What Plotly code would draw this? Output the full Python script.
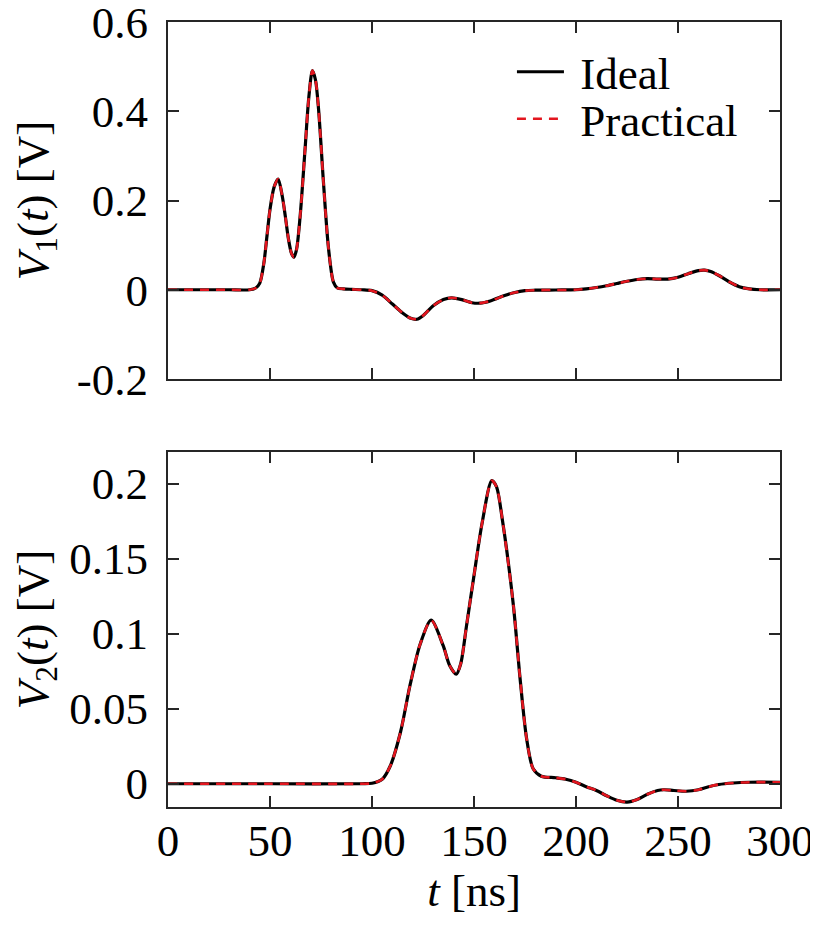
import plotly.graph_objects as go

# ---- data ----
t1 = [0, 10, 20, 30, 40, 43, 45, 47, 48.5, 50, 52, 54, 56, 57.5, 59, 60.5, 61.7, 63, 64.8, 67.2, 69,
      70.8, 72.3, 73.8, 76.2, 78.7, 81.1, 83, 86, 90, 95, 100, 105, 110, 115, 119, 122, 125, 130, 135,
      139, 144, 149, 153, 158, 165, 170, 175, 180, 190, 200, 205, 210, 215, 220, 225, 230, 235, 240,
      245, 250, 255, 260, 263, 266, 270, 275, 280, 285, 290, 300]
v1_ideal = [0, 0, 0, 0, 0, 0.004, 0.015, 0.06, 0.12, 0.18, 0.23, 0.248, 0.21, 0.165, 0.115, 0.082, 0.073,
            0.09, 0.166, 0.316, 0.43, 0.491, 0.47, 0.405, 0.241, 0.092, 0.017, 0.004, 0.002, 0.001, 0.0,
            -0.002, -0.012, -0.032, -0.052, -0.064, -0.066, -0.058, -0.036, -0.022, -0.018, -0.022,
            -0.029, -0.030, -0.025, -0.013, -0.006, -0.002, -0.001, -0.0005, 0, 0.002, 0.005, 0.009,
            0.014, 0.019, 0.023, 0.025, 0.024, 0.024, 0.028, 0.036, 0.043, 0.044, 0.041, 0.032, 0.018,
            0.007, 0.002, 0, 0]
v1_practical = [0, 0, 0, 0, 0, 0.004, 0.015, 0.06, 0.12, 0.18, 0.23, 0.248, 0.21, 0.165, 0.115, 0.082, 0.073,
                0.09, 0.166, 0.316, 0.43, 0.491, 0.47, 0.405, 0.241, 0.092, 0.017, 0.004, 0.002, 0.001, 0.0,
                -0.002, -0.012, -0.032, -0.052, -0.064, -0.066, -0.058, -0.036, -0.022, -0.018, -0.022,
                -0.029, -0.030, -0.025, -0.013, -0.006, -0.002, -0.001, -0.0005, 0, 0.002, 0.005, 0.009,
                0.014, 0.019, 0.023, 0.025, 0.024, 0.024, 0.028, 0.036, 0.043, 0.044, 0.041, 0.032, 0.018,
                0.007, 0.002, 0, 0]

t2 = [0, 50, 95, 100, 105, 109, 113.9, 118.7, 123.6, 129, 134.9, 138, 141.3, 143.5, 146.3, 149.8, 154,
      158.7, 161, 163.9, 169.3, 172.6, 175.8, 179, 183, 190, 195, 200, 205, 210, 215, 220, 225, 230,
      235, 240, 243, 248, 254, 260, 265, 270, 277, 285, 300]
v2_ideal = [0, 0, 0, 0.0003, 0.003, 0.012, 0.034, 0.066, 0.093, 0.109, 0.092, 0.079, 0.073, 0.08, 0.105,
            0.137, 0.174, 0.202, 0.198, 0.176, 0.119, 0.07, 0.03, 0.01, 0.005, 0.004, 0.003, 0.001,
            -0.002, -0.0045, -0.008, -0.011, -0.0122, -0.0105, -0.007, -0.0045, -0.004, -0.0045, -0.005,
            -0.004, -0.002, -0.0005, 0.0005, 0.001, 0.001]
v2_practical = [0, 0, 0, 0.0003, 0.003, 0.012, 0.034, 0.066, 0.093, 0.109, 0.092, 0.079, 0.073, 0.08, 0.105,
                0.137, 0.174, 0.202, 0.198, 0.176, 0.119, 0.07, 0.03, 0.01, 0.005, 0.004, 0.003, 0.001,
                -0.002, -0.0045, -0.008, -0.011, -0.0122, -0.0105, -0.007, -0.0045, -0.004, -0.0045, -0.005,
                -0.004, -0.002, -0.0005, 0.0005, 0.001, 0.001]

x_ticks = [0, 50, 100, 150, 200, 250, 300]
x_ticktext = ["0", "50", "100", "150", "200", "250", "300"]
y1_ticks = [-0.2, 0, 0.2, 0.4, 0.6]
y1_ticktext = ["-0.2", "0", "0.2", "0.4", "0.6"]
y2_ticks = [0, 0.05, 0.1, 0.15, 0.2]
y2_ticktext = ["0", "0.05", "0.1", "0.15", "0.2"]

FONT = "Liberation Serif"
AX = "#262626"
SZ = 45

fig = go.Figure()
fig.add_trace(go.Scatter(x=t1, y=v1_ideal, mode="lines", name="\u00a0Ideal", legend="legend",
                         line=dict(color="black", width=3.2, shape="spline", smoothing=0.8),
                         xaxis="x", yaxis="y"))
fig.add_trace(go.Scatter(x=t1, y=v1_practical, mode="lines", name="\u00a0Practical", legend="legend2",
                         line=dict(color="#e3161f", width=2.6, dash="9px,7px", shape="spline", smoothing=0.8),
                         xaxis="x", yaxis="y"))
fig.add_trace(go.Scatter(x=t2, y=v2_ideal, mode="lines", name="Ideal", showlegend=False,
                         line=dict(color="black", width=3.2, shape="spline", smoothing=0.8),
                         xaxis="x2", yaxis="y2"))
fig.add_trace(go.Scatter(x=t2, y=v2_practical, mode="lines", name="Practical", showlegend=False,
                         line=dict(color="#e3161f", width=2.6, dash="9px,7px", shape="spline", smoothing=0.8),
                         xaxis="x2", yaxis="y2"))

axis_common = dict(showline=True, mirror="ticks", linecolor=AX, linewidth=2.2, ticks="inside",
                   ticklen=11, tickwidth=2, tickcolor=AX, showgrid=False, zeroline=False,
                   automargin=False, ticklabeloverflow="allow",
                   tickfont=dict(family=FONT, size=SZ, color="black"))

legend_common = dict(xanchor="left", yanchor="middle", bgcolor="rgba(0,0,0,0)",
                     itemwidth=47, font=dict(family=FONT, size=SZ, color="black"))

# page body has an 8px default margin: figure is placed at (8, 8)
fig.update_layout(
    width=810, height=910,
    margin=dict(l=160, r=38, t=14, b=111),
    paper_bgcolor="white", plot_bgcolor="white",
    font=dict(family=FONT, size=SZ, color="black"),
    xaxis=dict(domain=[0, 1], range=[0, 300], tickvals=x_ticks, ticktext=x_ticktext,
               showticklabels=False, anchor="y", **axis_common),
    yaxis=dict(domain=[0.5452, 1], range=[-0.2, 0.6], tickvals=y1_ticks, ticktext=y1_ticktext,
               anchor="x", ticklabelstandoff=9,
               title=dict(text="<i>V</i><sub>1</sub>(<i>t</i>) [V]", standoff=29,
                          font=dict(family=FONT, size=SZ)),
               **axis_common),
    xaxis2=dict(domain=[0, 1], range=[0, 300], tickvals=x_ticks, ticktext=x_ticktext,
                anchor="y2", ticklabelstandoff=-7,
                title=dict(text="<i>t</i> [ns]", standoff=8, font=dict(family=FONT, size=SZ)),
                **axis_common),
    yaxis2=dict(domain=[0, 0.4522], range=[-0.0155, 0.2211], tickvals=y2_ticks, ticktext=y2_ticktext,
                anchor="x2", ticklabelstandoff=9,
                title=dict(text="<i>V</i><sub>2</sub>(<i>t</i>) [V]", standoff=29,
                           font=dict(family=FONT, size=SZ)),
                **axis_common),
    legend=dict(x=0.562, y=(808 - 73) / 785, **legend_common),
    legend2=dict(x=0.562, y=(808 - 120) / 785, **legend_common),
    showlegend=True,
)

fig.write_html("out.html")
